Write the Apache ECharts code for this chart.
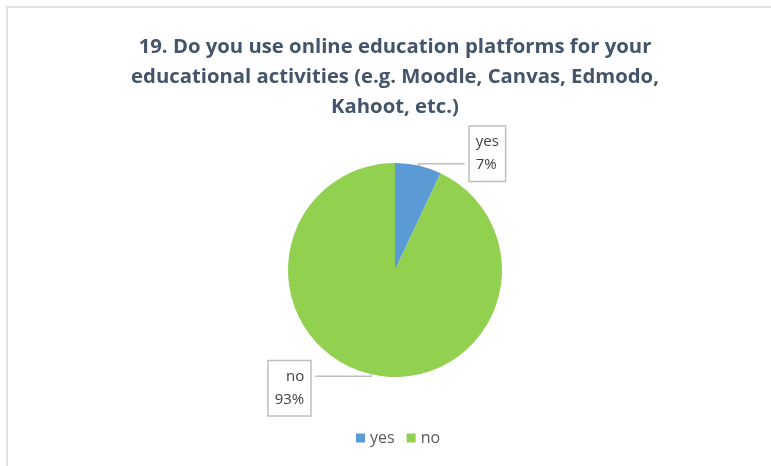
<!DOCTYPE html>
<html>
<head>
<meta charset="utf-8">
<script src="https://cdn.jsdelivr.net/npm/echarts@6/dist/echarts.min.js"></script>
<style>
  html, body { margin: 0; padding: 0; background: #fff; }
  #chart { width: 771px; height: 466px; position: absolute; left: 0; top: 0; }
  #frame { position: absolute; left: 6px; top: 6px; width: 765px; height: 460px;
           border-left: 2px solid #dfe3e8; border-top: 2px solid #dfe3e8; pointer-events: none; }
</style>
</head>
<body>
<div id="chart"></div>
<div id="frame"></div>
<script>
// Survey answers and their shares (percent)
const categories = ['yes', 'no'];
const shares = [7, 93];
const colors = ['#5b9bd5', '#92d050'];
const titleText = '19. Do you use online education platforms for your\neducational activities (e.g. Moodle, Canvas, Edmodo,\nKahoot, etc.)';

const chart = echarts.init(document.getElementById('chart'), null, { renderer: 'canvas' });

const labelBox = {
  show: true,
  position: 'outside',
  formatter: '{b}\n{d}%',
  fontFamily: 'Open Sans',
  fontSize: 15,
  lineHeight: 23,
  color: '#404040',
  backgroundColor: '#ffffff',
  borderColor: '#bfbfbf',
  borderWidth: 1.5,
  padding: [4, 6, 4, 6],
  align: 'center'
};

chart.setOption({
  animation: false,
  backgroundColor: '#ffffff',
  title: {
    text: titleText,
    left: 390,
    textAlign: 'center',
    top: 27,
    textStyle: {
      fontFamily: 'Open Sans',
      fontSize: 20.3,
      fontWeight: 'bold',
      color: '#44546a',
      lineHeight: 30
    }
  },
  legend: {
    bottom: 20,
    left: 356,
    padding: 0,
    itemWidth: 9,
    itemHeight: 9,
    itemGap: 12,
    icon: 'rect',
    textStyle: { fontFamily: 'Open Sans', fontSize: 16, color: '#595959' },
    data: categories
  },
  series: [{
    type: 'pie',
    center: [395, 270],
    radius: 107,
    startAngle: 90,
    clockwise: true,
    avoidLabelOverlap: false,
    data: categories.map((name, i) => ({
      name,
      value: shares[i],
      itemStyle: { color: colors[i] },
      label: Object.assign({}, labelBox),
      labelLine: i === 0
        ? { length: 2, length2: 46, lineStyle: { color: '#bfbfbf', width: 1.5 } }
        : { length: 2, length2: 56, lineStyle: { color: '#bfbfbf', width: 1.5 } }
    })),
    labelLayout: function (p) {
      return p.dataIndex === 0 ? { dy: -10 } : { dy: 12 };
    }
  }]
});
</script>
</body>
</html>
